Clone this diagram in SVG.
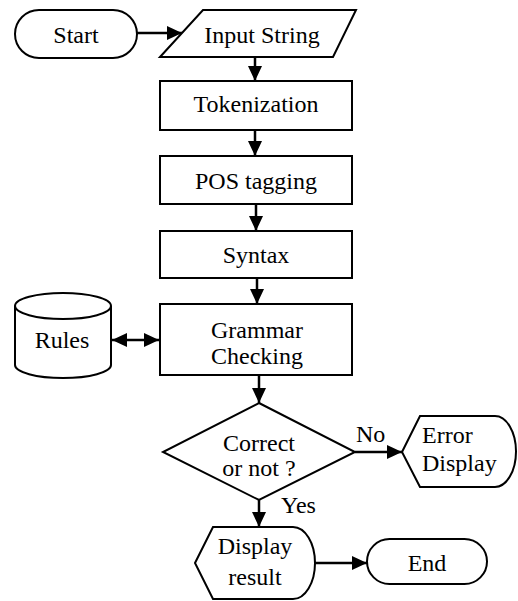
<svg xmlns="http://www.w3.org/2000/svg" width="518" height="601" viewBox="0 0 518 601">
<defs>
<marker id="ah" markerUnits="userSpaceOnUse" markerWidth="15" markerHeight="14" refX="15" refY="7" orient="auto-start-reverse">
<path d="M0,0 L15,7 L0,14 Z" fill="#000"/>
</marker>
</defs>
<rect width="518" height="601" fill="#fff"/>
<g id="connectors" fill="none" stroke="#000" stroke-width="2.5">
<path d="M137,33 L182,33" marker-end="url(#ah)"/>
<path d="M255,57 L255,81" marker-end="url(#ah)"/>
<path d="M255,130 L255,156" marker-end="url(#ah)"/>
<path d="M256,204 L256,231" marker-end="url(#ah)"/>
<path d="M257,278 L257,304" marker-end="url(#ah)"/>
<path d="M112,340 L159,340" marker-start="url(#ah)" marker-end="url(#ah)"/>
<path d="M259,375 L259,403" marker-end="url(#ah)"/>
<path d="M355,452 L402,452" marker-end="url(#ah)"/>
<path d="M259,500 L259,527" marker-end="url(#ah)"/>
<path d="M315,563 L367,563" marker-end="url(#ah)"/>
</g>
<g id="labels" font-family="Liberation Serif" font-size="24" fill="#000">
<text x="356" y="442">No</text>
<text x="281" y="513">Yes</text>
</g>
<g fill="#fff" stroke="#000" stroke-width="2">
<g id="start">
<rect x="15" y="10" width="122" height="48" rx="24"/>
<text font-family="Liberation Serif" font-size="24" fill="#000" stroke="none" text-anchor="middle" x="76" y="43">Start</text>
</g>
<g id="input">
<path d="M160,57 L203,10 L356,10 L333,57 Z"/>
<text font-family="Liberation Serif" font-size="24" fill="#000" stroke="none" text-anchor="middle" x="262" y="43">Input String</text>
</g>
<g id="tokenization">
<rect x="160" y="81" width="192" height="49"/>
<text font-family="Liberation Serif" font-size="24" fill="#000" stroke="none" text-anchor="middle" x="256" y="112">Tokenization</text>
</g>
<g id="pos">
<rect x="160" y="156" width="192" height="48"/>
<text font-family="Liberation Serif" font-size="24" fill="#000" stroke="none" text-anchor="middle" x="256" y="189">POS tagging</text>
</g>
<g id="syntax">
<rect x="160" y="231" width="192" height="47"/>
<text font-family="Liberation Serif" font-size="24" fill="#000" stroke="none" text-anchor="middle" x="256" y="263">Syntax</text>
</g>
<g id="grammar">
<rect x="160" y="304" width="192" height="71"/>
<text font-family="Liberation Serif" font-size="24" fill="#000" stroke="none" text-anchor="middle" x="257" y="338">Grammar</text>
<text font-family="Liberation Serif" font-size="24" fill="#000" stroke="none" text-anchor="middle" x="257" y="364">Checking</text>
</g>
<g id="rules">
<path d="M15,306 A48,13 0 0 1 111,306 L111,365 A48,13 0 0 1 15,365 Z"/>
<path fill="none" d="M15,306 A48,13 0 0 0 111,306"/>
<text font-family="Liberation Serif" font-size="24" fill="#000" stroke="none" text-anchor="middle" x="62" y="348">Rules</text>
</g>
<g id="decision">
<path d="M259,403 L355,452 L259,500 L163,452 Z"/>
<text font-family="Liberation Serif" font-size="24" fill="#000" stroke="none" text-anchor="middle" x="259" y="451">Correct</text>
<text font-family="Liberation Serif" font-size="24" fill="#000" stroke="none" text-anchor="middle" x="259" y="476">or not ?</text>
</g>
<g id="error">
<path d="M402,452 L420,416 L495,416 A21,35.5 0 0 1 495,487 L420,487 Z"/>
<text font-family="Liberation Serif" font-size="24" fill="#000" stroke="none" x="422" y="443">Error</text>
<text font-family="Liberation Serif" font-size="24" fill="#000" stroke="none" x="422" y="471">Display</text>
</g>
<g id="display">
<path d="M195,563 L213,527 L293,527 A22,36 0 0 1 293,599 L213,599 Z"/>
<text font-family="Liberation Serif" font-size="24" fill="#000" stroke="none" text-anchor="middle" x="255" y="554">Display</text>
<text font-family="Liberation Serif" font-size="24" fill="#000" stroke="none" text-anchor="middle" x="255" y="585">result</text>
</g>
<g id="end">
<rect x="367" y="539" width="120" height="45" rx="22.5"/>
<text font-family="Liberation Serif" font-size="24" fill="#000" stroke="none" text-anchor="middle" x="427" y="571">End</text>
</g>
</g>
</svg>
